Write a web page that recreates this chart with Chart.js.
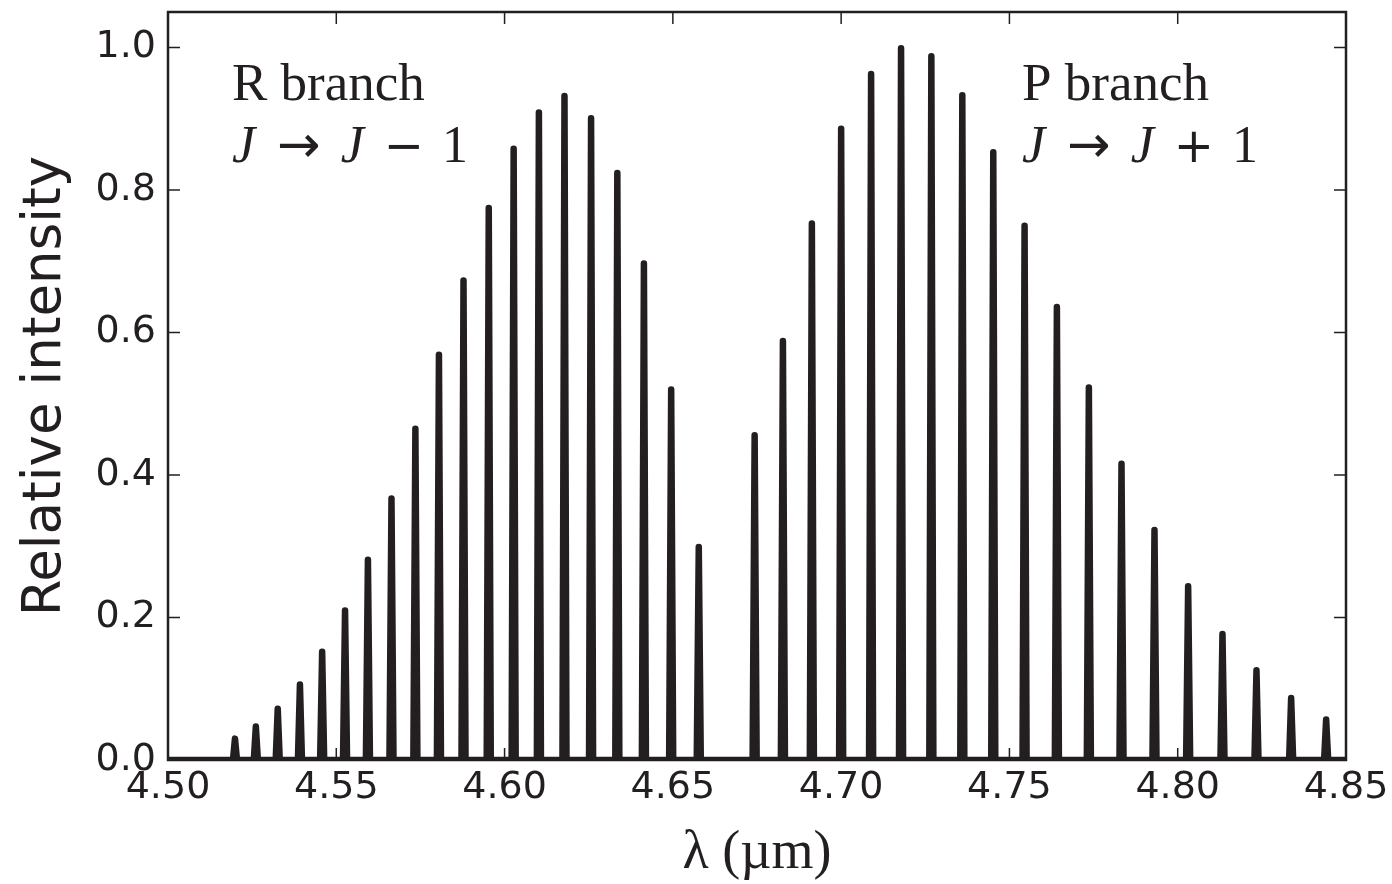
<!DOCTYPE html>
<html lang="en">
<head>
    <meta charset="UTF-8" />
    <title>CO rovibrational spectrum</title>
    <style>
        html, body { margin: 0; padding: 0; background: #fff; }
        .wrap { width: 1392px; height: 884px; }
    </style>
    <script src="https://cdn.jsdelivr.net/npm/chart.js"></script>
</head>
<body>
    <div class="wrap"><canvas id="spectrum" width="1392" height="884"></canvas></div>
    <script>
        // line positions (um) and relative intensities
        const rBranchWl = [4.5199, 4.5261, 4.5326, 4.5392, 4.5458, 4.5526, 4.5594, 4.5664, 4.5735, 4.5805,
                           4.5878, 4.5953, 4.6027, 4.6102, 4.6178, 4.6257, 4.6335, 4.6414, 4.6495, 4.6577];
        const rBranchInt = [0.030, 0.047, 0.072, 0.106, 0.152, 0.210, 0.281, 0.367, 0.465, 0.569,
                            0.673, 0.775, 0.858, 0.909, 0.932, 0.901, 0.824, 0.697, 0.520, 0.299];
        const pBranchWl = [4.6743, 4.6827, 4.6913, 4.7000, 4.7089, 4.7178, 4.7268, 4.7360, 4.7452, 4.7545,
                           4.7641, 4.7736, 4.7833, 4.7931, 4.8031, 4.8133, 4.8234, 4.8337, 4.8441];
        const pBranchInt = [0.456, 0.588, 0.753, 0.886, 0.963, 0.999, 0.988, 0.933, 0.853, 0.750,
                            0.636, 0.523, 0.416, 0.323, 0.244, 0.177, 0.126, 0.087, 0.057];
        const xTickValues = [4.50, 4.55, 4.60, 4.65, 4.70, 4.75, 4.80, 4.85];
        const yTickValues = [0.0, 0.2, 0.4, 0.6, 0.8, 1.0];

        const X_MIN = 4.50, X_MAX = 4.85, Y_MAX = 1.05;
        const INK = '#231f20';
        const HALF_BASE = 0.0006; // half width of each drawn spike at the baseline

        // spectrum as one polyline: baseline with a narrow spike for every line
        const spectrum = [{ x: X_MIN, y: 0 }];
        const allWl = rBranchWl.concat(pBranchWl);
        const allInt = rBranchInt.concat(pBranchInt);
        allWl.forEach((w, i) => {
            spectrum.push({ x: w - HALF_BASE, y: 0 });
            spectrum.push({ x: w, y: allInt[i] });
            spectrum.push({ x: w + HALF_BASE, y: 0 });
        });
        spectrum.push({ x: X_MAX, y: 0 });

        // draw a line of mixed text pieces (italic J, math symbols)
        const SERIF = '"Liberation Serif", serif';
        const SYM = '"DejaVu Sans", sans-serif';
        function richText(ctx, parts, x, y) {
            let cx = x;
            parts.forEach(p => {
                ctx.font = p.font;
                ctx.fillText(p.t, cx, y);
                cx += ctx.measureText(p.t).width + (p.gap || 0);
            });
        }
        function transition(sign) {
            return [
                { t: 'J', font: 'italic 52px ' + SERIF, gap: 22 },
                { t: '\u2192', font: '52px ' + SYM, gap: 20 },
                { t: 'J', font: 'italic 52px ' + SERIF, gap: 20 },
                { t: sign, font: '48px ' + SYM, gap: 18 },
                { t: '1', font: '52px ' + SERIF }
            ];
        }

        const framePlugin = {
            id: 'frame',
            beforeDatasetsDraw(chart) {
                const { ctx, chartArea: a, scales } = chart;
                const len = 12;
                ctx.save();
                ctx.strokeStyle = INK;
                ctx.lineWidth = 1.5;
                ctx.beginPath();
                xTickValues.forEach(v => {
                    const px = scales.x.getPixelForValue(v);
                    ctx.moveTo(px, a.bottom); ctx.lineTo(px, a.bottom - len);
                    ctx.moveTo(px, a.top); ctx.lineTo(px, a.top + len);
                });
                yTickValues.forEach(v => {
                    const py = scales.y.getPixelForValue(v);
                    ctx.moveTo(a.left, py); ctx.lineTo(a.left + len, py);
                    ctx.moveTo(a.right, py); ctx.lineTo(a.right - len, py);
                });
                ctx.stroke();
                ctx.restore();
            },
            afterDatasetsDraw(chart) {
                const { ctx, chartArea: a } = chart;
                ctx.save();
                ctx.strokeStyle = INK;
                ctx.lineWidth = 2.5;
                ctx.strokeRect(a.left, a.top, a.right - a.left, a.bottom - a.top);

                ctx.fillStyle = INK;
                ctx.textBaseline = 'alphabetic';
                ctx.font = '53px ' + SERIF;
                ctx.fillText('R branch', 232, 100);
                richText(ctx, transition('\u2212'), 232, 162);
                ctx.font = '53px ' + SERIF;
                ctx.fillText('P branch', 1022, 100);
                richText(ctx, transition('+'), 1022, 162);
                ctx.restore();
            }
        };

        new Chart(document.getElementById('spectrum').getContext('2d'), {
            type: 'scatter',
            data: {
                datasets: [{
                    data: spectrum,
                    showLine: true,
                    borderColor: INK,
                    borderWidth: 6.5,
                    borderJoinStyle: 'round',
                    borderCapStyle: 'round',
                    pointRadius: 0,
                    tension: 0
                }]
            },
            options: {
                responsive: false,
                animation: false,
                layout: { padding: { top: 12, right: 46, left: 0, bottom: 0 } },
                plugins: { legend: { display: false }, tooltip: { enabled: false } },
                scales: {
                    x: {
                        type: 'linear', min: X_MIN, max: X_MAX,
                        grid: { display: false, drawTicks: false },
                        border: { display: false },
                        afterBuildTicks: s => { s.ticks = xTickValues.map(v => ({ value: v })); },
                        afterFit: s => { s.height = 124; s.paddingLeft = 0; s.paddingRight = 0; },
                        ticks: {
                            color: INK, padding: 5, maxRotation: 0, autoSkip: false,
                            font: { family: 'DejaVu Sans', size: 38 },
                            callback: v => v.toFixed(2)
                        },
                        title: {
                            display: true, text: '\u03bb (\u00b5m)', color: INK,
                            font: { family: 'Liberation Serif', size: 54, lineHeight: 1.1 },
                            padding: { top: 0, bottom: 0 }
                        }
                    },
                    y: {
                        type: 'linear', min: 0, max: Y_MAX,
                        grid: { display: false, drawTicks: false },
                        border: { display: false },
                        afterBuildTicks: s => { s.ticks = yTickValues.map(v => ({ value: v })); },
                        afterFit: s => { s.width = 168; s.paddingTop = 0; s.paddingBottom = 0; },
                        ticks: {
                            color: INK, padding: 12,
                            font: { family: 'DejaVu Sans', size: 38 },
                            callback: v => v.toFixed(1)
                        },
                        title: {
                            display: true, text: 'Relative intensity', color: INK,
                            font: { family: 'DejaVu Sans', size: 53, lineHeight: 1.0 },
                            padding: { top: 20, bottom: 0 }
                        }
                    }
                }
            },
            plugins: [framePlugin]
        });
    </script>
</body>
</html>
